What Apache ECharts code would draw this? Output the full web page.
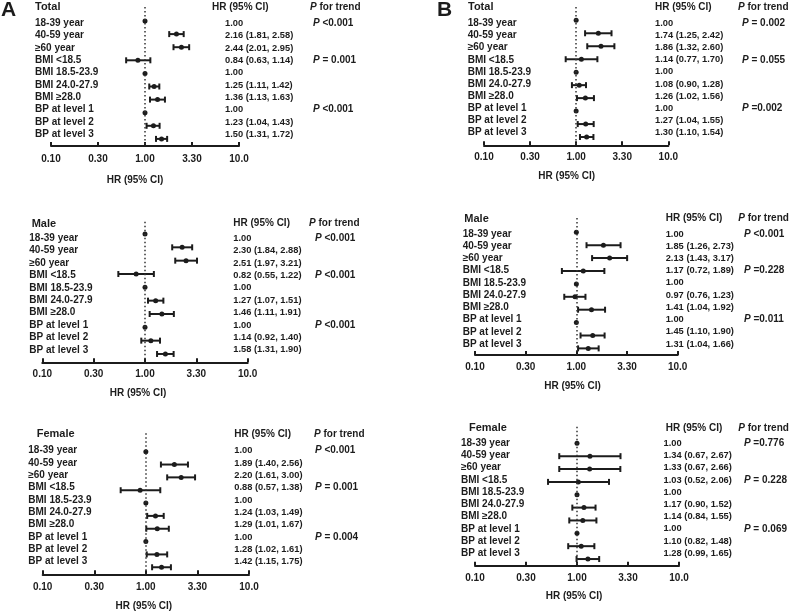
<!DOCTYPE html>
<html><head><meta charset="utf-8">
<script src="https://cdn.jsdelivr.net/npm/echarts@6/dist/echarts.min.js"></script>
<style>html,body{margin:0;padding:0;background:#fff}#c{width:790px;height:613px}</style>
</head><body><div id="c"></div>
<script>
// ---------- data ----------
const rowLabels = ['18-39 year','40-59 year','\u226560 year','BMI <18.5','BMI 18.5-23.9','BMI 24.0-27.9','BMI \u226528.0','BP at level 1','BP at level 2','BP at level 3'];
const tickLabels = ['0.10','0.30','1.00','3.30','10.0'];

const aTotalHR = [1.00,2.16,2.44,0.84,1.00,1.25,1.36,1.00,1.23,1.50];
const aTotalLo = [null,1.81,2.01,0.63,null,1.11,1.13,null,1.04,1.31];
const aTotalHi = [null,2.58,2.95,1.14,null,1.42,1.63,null,1.43,1.72];
const aTotalP  = ['P <0.001','','','P = 0.001','','','','P <0.001','',''];

const aMaleHR = [1.00,2.30,2.51,0.82,1.00,1.27,1.46,1.00,1.14,1.58];
const aMaleLo = [null,1.84,1.97,0.55,null,1.07,1.11,null,0.92,1.31];
const aMaleHi = [null,2.88,3.21,1.22,null,1.51,1.91,null,1.40,1.90];
const aMaleP  = ['P <0.001','','','P <0.001','','','','P <0.001','',''];

const aFemaleHR = [1.00,1.89,2.20,0.88,1.00,1.24,1.29,1.00,1.28,1.42];
const aFemaleLo = [null,1.40,1.61,0.57,null,1.03,1.01,null,1.02,1.15];
const aFemaleHi = [null,2.56,3.00,1.38,null,1.49,1.67,null,1.61,1.75];
const aFemaleP  = ['P <0.001','','','P = 0.001','','','','P = 0.004','',''];

const bTotalHR = [1.00,1.74,1.86,1.14,1.00,1.08,1.26,1.00,1.27,1.30];
const bTotalLo = [null,1.25,1.32,0.77,null,0.90,1.02,null,1.04,1.10];
const bTotalHi = [null,2.42,2.60,1.70,null,1.28,1.56,null,1.55,1.54];
const bTotalP  = ['P = 0.002','','','P = 0.055','','','','P =0.002','',''];

const bMaleHR = [1.00,1.85,2.13,1.17,1.00,0.97,1.41,1.00,1.45,1.31];
const bMaleLo = [null,1.26,1.43,0.72,null,0.76,1.04,null,1.10,1.04];
const bMaleHi = [null,2.73,3.17,1.89,null,1.23,1.92,null,1.90,1.66];
const bMaleP  = ['P <0.001','','','P =0.228','','','','P =0.011','',''];

const bFemaleHR = [1.00,1.34,1.33,1.03,1.00,1.17,1.14,1.00,1.10,1.28];
const bFemaleLo = [null,0.67,0.67,0.52,null,0.90,0.84,null,0.82,0.99];
const bFemaleHi = [null,2.67,2.66,2.06,null,1.52,1.55,null,1.48,1.65];
const bFemaleP  = ['P =0.776','','','P = 0.228','','','','P = 0.069','',''];

// ---------- layout (positions only) ----------
const panels = [
 {name:'Total', hr:aTotalHR, lo:aTotalLo, hi:aTotalHi, p:aTotalP,
  L:{x0:51,x1:239,axisY:146,top:7,m0:21,s:13.1,lx:35,l0:23.3,ls:12.33,hrx:225,px:313,hdrY:7,titleX:35,hrHx:212,pHx:310,tickY:157,axTX:135,axTY:180}},
 {name:'Male', hr:aMaleHR, lo:aMaleLo, hi:aMaleHi, p:aMaleP,
  L:{x0:42.3,x1:247.7,axisY:362.3,top:221.7,m0:234,s:13.33,lx:29.3,l0:238.3,ls:12.4,hrx:233.3,px:315,hdrY:223.5,titleX:31.7,hrHx:233.3,pHx:309,tickY:372.3,axTX:138,axTY:393.3}},
 {name:'Female', hr:aFemaleHR, lo:aFemaleLo, hi:aFemaleHi, p:aFemaleP,
  L:{x0:42.7,x1:249,axisY:574.3,top:433.3,m0:451.7,s:12.84,lx:28.3,l0:450.7,ls:12.33,hrx:234.3,px:315,hdrY:434,titleX:36.7,hrHx:234.3,pHx:314,tickY:585.3,axTX:143.8,axTY:606.7}},
 {name:'Total', hr:bTotalHR, lo:bTotalLo, hi:bTotalHi, p:bTotalP,
  L:{x0:484,x1:668.3,axisY:145.3,top:7,m0:20.3,s:12.97,lx:467.7,l0:23.3,ls:12.15,hrx:655,px:742,hdrY:7,titleX:468,hrHx:655,pHx:738,tickY:155.7,axTX:566.7,axTY:176.7}},
 {name:'Male', hr:bMaleHR, lo:bMaleLo, hi:bMaleHi, p:bMaleP,
  L:{x0:475,x1:677.7,axisY:355,top:218,m0:232.3,s:12.9,lx:462.7,l0:234,ls:12.22,hrx:665.7,px:744,hdrY:218.5,titleX:464.3,hrHx:665.7,pHx:738.3,tickY:365.7,axTX:572.5,axTY:386.7}},
 {name:'Female', hr:bFemaleHR, lo:bFemaleLo, hi:bFemaleHi, p:bFemaleP,
  L:{x0:475,x1:679,axisY:565.7,top:426.7,m0:443.3,s:12.86,lx:461,l0:443.3,ls:12.22,hrx:665.7,px:746,hdrY:428,titleX:469,hrHx:665.7,pHx:738.3,tickY:576.7,axTX:574,axTY:596.7}}
];

const FONT = '"Liberation Sans", Arial, Helvetica, sans-serif';
const INK = '#1c1c1c';
const fmt = v => v.toFixed(2);

const grid = [], xAxis = [], yAxis = [], series = [], graphic = [];

panels.forEach((P, k) => {
  const L = P.L;
  // plot grid
  const gPlot = grid.length;
  grid.push({left:L.x0, top:L.top, width:L.x1 - L.x0, height:L.axisY - L.top});
  const xPlot = xAxis.length;
  xAxis.push({gridIndex:gPlot, type:'log', logBase:10, min:0.1, max:10, interval:0.5, position:'bottom',
    axisLine:{show:true, onZero:false, lineStyle:{color:INK, width:2}},
    axisTick:{show:true, inside:true, length:4, lineStyle:{color:INK, width:2}},
    axisLabel:{show:true, margin:L.tickY - L.axisY - 3, color:INK, fontSize:10, fontWeight:'bold', fontFamily:FONT,
      showMinLabel:true, showMaxLabel:true,
      formatter: v => tickLabels[Math.round((Math.log10(v) + 1) * 2)] || ''},
    splitLine:{show:false}, minorTick:{show:false}});
  const yPlot = yAxis.length;
  yAxis.push({gridIndex:gPlot, type:'value', inverse:true,
    min:(L.top - L.m0) / L.s, max:(L.axisY - L.m0) / L.s, show:false});

  series.push({
    type:'custom', xAxisIndex:xPlot, yAxisIndex:yPlot, clip:false, silent:true,
    data:P.hr.map((v, j) => [v, j]),
    encode:{x:0, y:1},
    renderItem:(params, api) => {
      const j = params.dataIndex;
      const c = api.coord([P.hr[j], j]);
      const kids = [];
      if (P.lo[j] != null) {
        const a = api.coord([P.lo[j], j]);
        const b = api.coord([P.hi[j], j]);
        kids.push({type:'line', shape:{x1:a[0], y1:a[1], x2:b[0], y2:b[1]}, style:{stroke:INK, lineWidth:2}});
        kids.push({type:'line', shape:{x1:a[0], y1:a[1]-3, x2:a[0], y2:a[1]+3}, style:{stroke:INK, lineWidth:2}});
        kids.push({type:'line', shape:{x1:b[0], y1:b[1]-3, x2:b[0], y2:b[1]+3}, style:{stroke:INK, lineWidth:2}});
      }
      kids.push({type:'circle', shape:{cx:c[0], cy:c[1], r:2.5}, style:{fill:INK}});
      return {type:'group', children:kids};
    },
    markLine:{silent:true, symbol:'none', label:{show:false},
      lineStyle:{color:'#333', width:1.5, type:[1.5, 2.5]},
      data:[{xAxis:1}]}
  });

  // text grid (row labels, HR column, P column)
  const gTxt = grid.length;
  grid.push({left:L.lx, top:L.l0 - L.ls / 2, width:L.hrx - L.lx, height:10 * L.ls});
  xAxis.push({gridIndex:gTxt, type:'value', show:false});
  const baseLab = {color:INK, fontWeight:'bold', fontFamily:FONT, interval:0};
  const hideAx = {axisLine:{show:false}, axisTick:{show:false}, splitLine:{show:false}};
  yAxis.push(Object.assign({gridIndex:gTxt, type:'category', inverse:true, position:'left', data:rowLabels,
    axisLabel:Object.assign({align:'left', margin:0, fontSize:10}, baseLab)}, hideAx));
  yAxis.push(Object.assign({gridIndex:gTxt, type:'category', inverse:true, position:'right',
    data:P.hr.map((v, j) => P.lo[j] == null ? fmt(v) : fmt(v) + ' (' + fmt(P.lo[j]) + ', ' + fmt(P.hi[j]) + ')'),
    axisLabel:Object.assign({align:'left', margin:0, fontSize:9.3}, baseLab)}, hideAx));
  yAxis.push(Object.assign({gridIndex:gTxt, type:'category', inverse:true, position:'right', offset:L.px - L.hrx,
    data:P.p,
    axisLabel:Object.assign({align:'left', margin:0, fontSize:10,
      formatter: v => v ? '{i|P}' + v.slice(1) : '',
      rich:{i:{fontStyle:'italic', fontWeight:'bold', fontSize:10, fontFamily:FONT, color:INK}}}, baseLab)}, hideAx));

  // headers
  const txt = (x, y, text, size, extra) => graphic.push({type:'text', x:x, y:y, silent:true,
    style:Object.assign({text:text, fill:INK, fontSize:size, fontWeight:'bold', fontFamily:FONT, verticalAlign:'middle', align:'left'}, extra || {})});
  txt(L.titleX, L.hdrY, P.name, 11);
  txt(L.hrHx, L.hdrY, 'HR (95% CI)', 10);
  txt(L.pHx, L.hdrY, '{i|P} for trend', 10, {rich:{i:{fontStyle:'italic', fontWeight:'bold', fontSize:10, fontFamily:FONT, fill:INK}}});
  txt(L.axTX, L.axTY, 'HR (95% CI)', 10, {align:'center'});
});

graphic.push({type:'text', x:1, y:10, silent:true, style:{text:'A', fill:INK, fontSize:21, fontWeight:'bold', fontFamily:FONT, verticalAlign:'middle'}});
graphic.push({type:'text', x:437, y:10, silent:true, style:{text:'B', fill:INK, fontSize:21, fontWeight:'bold', fontFamily:FONT, verticalAlign:'middle'}});

const chart = echarts.init(document.getElementById('c'), null, {renderer:'canvas'});
chart.setOption({backgroundColor:'#fff', animation:false, grid, xAxis, yAxis, series, graphic});
</script></body></html>
